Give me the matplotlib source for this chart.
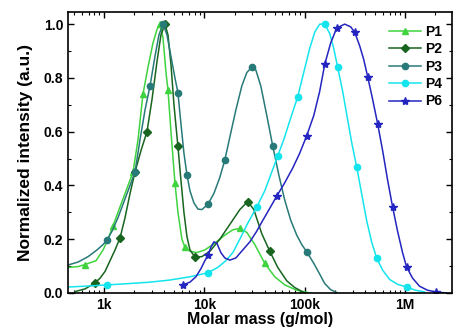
import numpy as np
import matplotlib
matplotlib.use('Agg')
import matplotlib.pyplot as plt
from matplotlib.ticker import LogLocator, MultipleLocator, FixedLocator, FixedFormatter

plt.rcParams['font.family'] = ['Liberation Sans', 'DejaVu Sans']
plt.rcParams['font.weight'] = 'bold'

# molar mass (g/mol) and normalized intensity
p1_m = [440, 551, 693, 832, 977, 1096, 1229, 1377, 1545, 1733, 1944, 2179, 2443, 2741, 3074,
        3368, 3607, 3865, 4141, 4335, 4643, 5086, 5448, 5970, 6397, 7177, 8420, 10115, 12710,
        15990, 19220, 22550, 26490, 31790, 39990, 50250, 63240, 83250, 112200]
p1_y = [0.095, 0.098, 0.105, 0.12, 0.16, 0.20, 0.25, 0.30, 0.35, 0.40, 0.45, 0.57, 0.74, 0.84,
        0.93, 0.98, 1.0, 0.95, 0.82, 0.755, 0.60, 0.41, 0.30, 0.20, 0.17, 0.155, 0.15, 0.16,
        0.185, 0.215, 0.235, 0.24, 0.225, 0.18, 0.11, 0.06, 0.03, 0.01, 0.0]
p1_mk = [640, 1229, 1944, 2443, 3607, 4335, 5086, 6397, 22550, 39990]
p1_m[2] = 640

p2_m = [514, 647, 813, 912, 1023, 1147, 1287, 1443, 1618, 1815, 2034, 2335, 2679, 3005, 3368,
        3690, 4047, 4335, 4643, 4974, 5448, 5835, 6252, 6697, 7177, 8040, 9441, 11350, 14260,
        17940, 22550, 27100, 31100, 37340, 44870, 53830, 66220, 79500, 100000]
p2_y = [0.005, 0.015, 0.037, 0.055, 0.08, 0.12, 0.16, 0.205, 0.28, 0.37, 0.45, 0.53, 0.60,
        0.72, 0.86, 0.96, 1.0, 0.96, 0.85, 0.70, 0.545, 0.42, 0.30, 0.21, 0.16, 0.134, 0.135,
        0.155, 0.20, 0.255, 0.31, 0.34, 0.31, 0.22, 0.155, 0.095, 0.045, 0.02, 0.0]
p2_mk = [813, 1443, 2034, 2679, 4047, 5448, 8040, 27100, 44870]

p3_m = [439, 551, 693, 851, 977, 1071, 1201, 1377, 1581, 1815, 2034, 2282, 2558, 2870, 3217,
        3525, 3865, 4237, 4643, 5086, 5448, 5835, 6252, 6697, 7177, 7862, 8617, 9441, 10838,
        12440, 14260, 15990, 17940, 20570, 23610, 26490, 29700, 32520, 36490, 41880, 48080,
        55100, 63240, 72590, 83250, 93330, 104700, 123100, 141000, 158200, 181500, 212900]
p3_y = [0.104, 0.115, 0.135, 0.16, 0.18, 0.197, 0.23, 0.28, 0.34, 0.40, 0.45, 0.57, 0.68, 0.77,
        0.88, 0.96, 1.0, 0.96, 0.88, 0.80, 0.745, 0.63, 0.52, 0.44, 0.38, 0.335, 0.312, 0.31,
        0.33, 0.37, 0.43, 0.495, 0.58, 0.68, 0.77, 0.82, 0.84, 0.83, 0.77, 0.66, 0.545, 0.44,
        0.345, 0.27, 0.215, 0.18, 0.153, 0.11, 0.07, 0.035, 0.012, 0.0]
p3_mk = [1071, 2034, 2870, 3865, 5448, 6697, 10838, 15990, 29700, 48080, 104700]

p4_m = [439, 726, 1071, 1815, 2870, 4539, 7177, 10838, 13620, 16370, 19220, 22550, 27100,
        33280, 39990, 46950, 53830, 61800, 70950, 85180, 97740, 112200, 125900, 141000, 158200,
        177400, 194500, 212900, 238900, 267800, 293700, 329100, 369100, 414000, 464400, 520500,
        597300, 701400, 841800, 1035000, 1271000, 1563000]
p4_y = [0.022, 0.026, 0.03, 0.035, 0.04, 0.048, 0.06, 0.075, 0.095, 0.12, 0.15, 0.20, 0.26,
        0.32, 0.38, 0.45, 0.51, 0.57, 0.64, 0.73, 0.82, 0.91, 0.97, 1.0, 1.0, 0.965, 0.91,
        0.84, 0.75, 0.645, 0.56, 0.47, 0.37, 0.27, 0.19, 0.13, 0.085, 0.05, 0.032, 0.022,
        0.01, 0.004]
p4_mk = [1071, 10838, 33280, 53830, 85180, 158200, 212900, 329100, 520500, 1035000]

p6_m = [6109, 7177, 8226, 9229, 10115, 10838, 11610, 12440, 13310, 14590, 15990, 17940, 20570,
        24160, 28370, 33280, 38210, 44870, 52610, 63240, 76010, 89200, 104700, 123100, 141000,
        158200, 181500, 208100, 250000, 286900, 314600, 352500, 386400, 423700, 475200, 532600,
        597300, 670100, 751300, 841800, 944400, 1035000, 1188000, 1394000, 1675000, 2057000,
        2589000]
p6_y = [0.03, 0.04, 0.06, 0.09, 0.12, 0.14, 0.17, 0.19, 0.185, 0.15, 0.13, 0.122, 0.13, 0.16,
        0.19, 0.23, 0.27, 0.315, 0.36, 0.41, 0.465, 0.52, 0.585, 0.66, 0.75, 0.85, 0.93, 0.985,
        1.0, 0.99, 0.97, 0.92, 0.87, 0.805, 0.72, 0.63, 0.53, 0.42, 0.32, 0.23, 0.15, 0.097,
        0.055, 0.025, 0.01, 0.003, 0.0]
p6_mk = [6109, 10838, 52610, 104700, 158200, 208100, 314600, 423700, 532600, 751300, 1035000,
         2057000]

series = [
    ('P1', p1_m, p1_y, p1_mk, '#3fd33f', '^', 4.5),
    ('P2', p2_m, p2_y, p2_mk, '#17651f', 'D', 3.8),
    ('P3', p3_m, p3_y, p3_mk, '#287a78', 'o', 4.5),
    ('P4', p4_m, p4_y, p4_mk, '#14e4ec', 'o', 4.5),
    ('P6', p6_m, p6_y, p6_mk, '#2424c0', '*', 6),
]

fig = plt.figure(figsize=(4.54, 3.34), dpi=100)
ax = fig.add_axes([0.150, 0.123, 0.846, 0.841])

for name, m, y, mk, c, marker, ms in series:
    idx = [m.index(v) for v in mk]
    ax.plot(m, y, color=c, lw=1.1, marker=marker, ms=ms, markevery=idx, label=name)

ax.set_xscale('log')
ax.set_xlim(438, 2.95e6)
ax.set_ylim(0, 1.045)
ax.xaxis.set_major_locator(FixedLocator([1e3, 1e4, 1e5, 1e6]))
ax.xaxis.set_major_formatter(FixedFormatter(['1k', '10k', '100k', '1M']))
ax.xaxis.set_minor_locator(LogLocator(base=10, subs=np.arange(2, 10)))
ax.yaxis.set_major_locator(MultipleLocator(0.2))
ax.yaxis.set_minor_locator(MultipleLocator(0.1))
ax.yaxis.set_major_formatter(plt.FuncFormatter(lambda v, p: '%.1f' % v))
ax.tick_params(which='both', direction='in', top=True, right=True, labelsize=10)
ax.tick_params(which='major', length=4, width=1)
ax.tick_params(which='minor', length=2, width=0.8)
for s in ax.spines.values():
    s.set_linewidth(1.2)

ax.set_xlabel('Molar mass (g/mol)', fontsize=11.5, fontweight='bold', labelpad=0)
ax.set_ylabel('Normalized intensity (a.u.)', fontsize=12.5, fontweight='bold', labelpad=8)

ax.legend(loc='upper right', bbox_to_anchor=(0.995, 0.985), frameon=False, fontsize=10,
          handlelength=2.3, handletextpad=0.3, labelspacing=0.25, borderaxespad=0.2)

plt.savefig('out.png', dpi=100)
